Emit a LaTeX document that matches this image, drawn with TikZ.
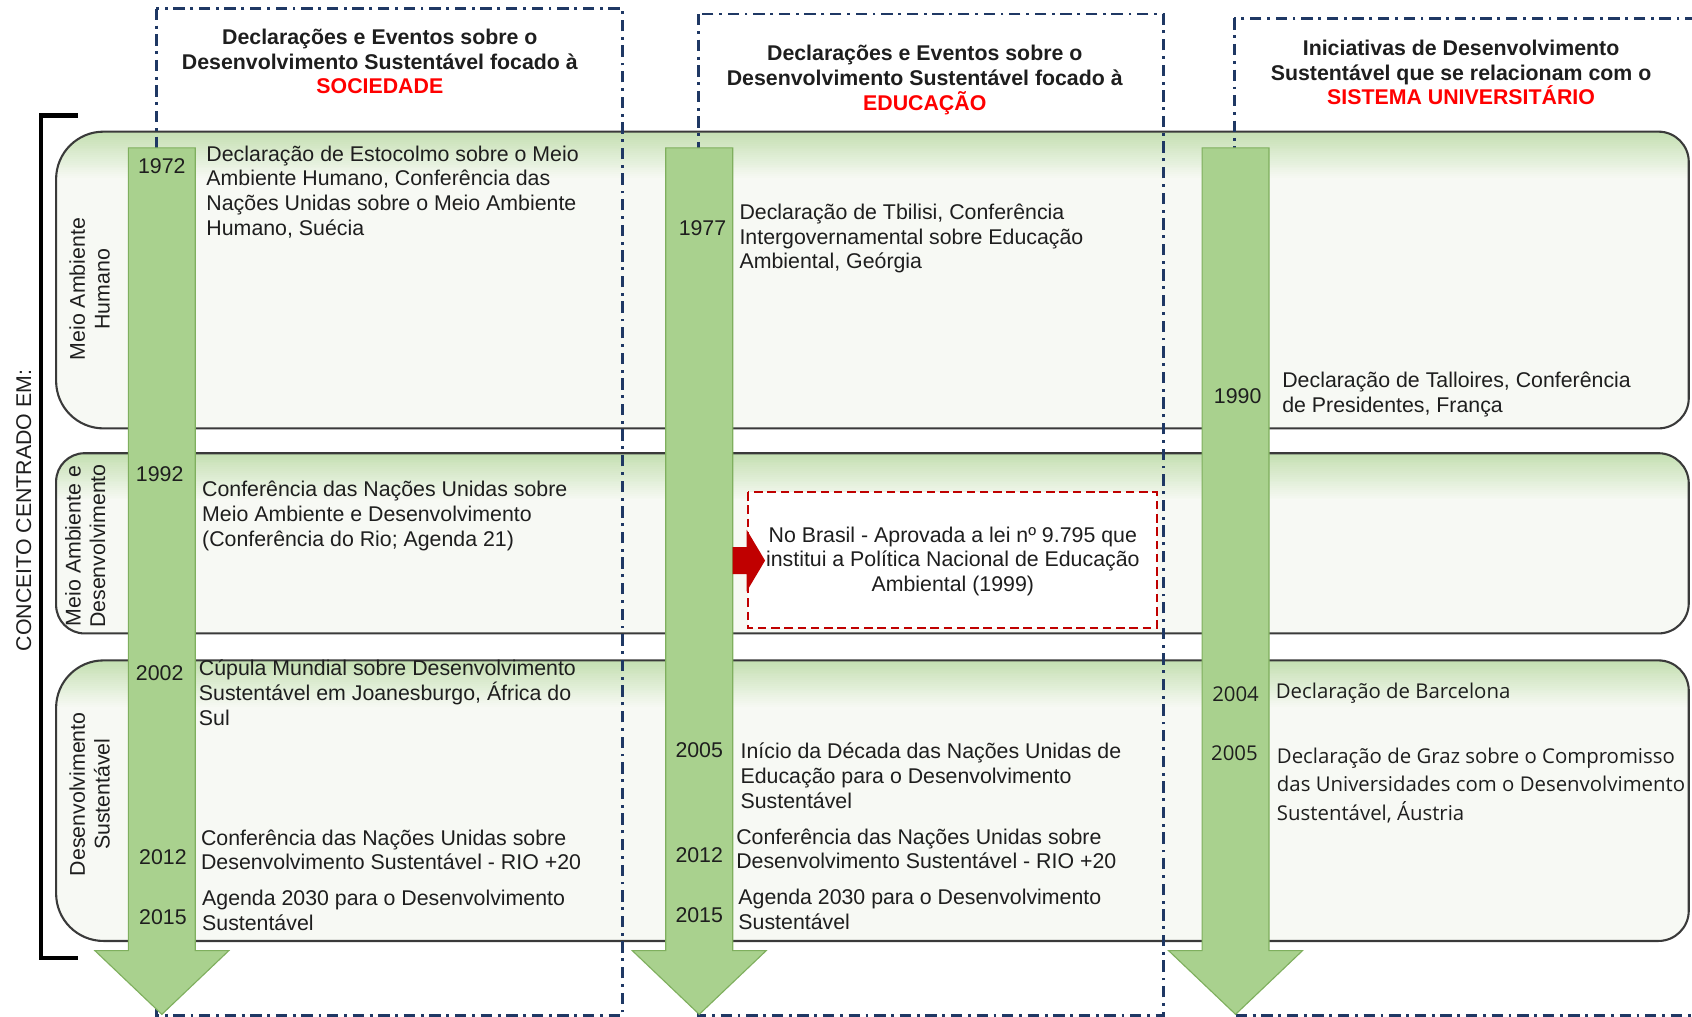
\documentclass[tikz,border=0pt]{standalone}
\usepackage{fontspec}
\setmainfont{Liberation Sans}
\newfontfamily\osans{Open Sans}
\definecolor{navy}{HTML}{1F3864}
\definecolor{bandtop}{HTML}{C3DFB0}
\definecolor{bandbot}{HTML}{F7F9F4}
\definecolor{bandline}{HTML}{3A3A3A}
\definecolor{garrowfill}{HTML}{A9D18E}
\definecolor{garrowline}{HTML}{7FAF5E}
\definecolor{darkred}{HTML}{C00000}
\definecolor{hdrred}{HTML}{FF0000}
\definecolor{txtcol}{HTML}{1E1E1E}
\newcommand{\myfs}{\fontsize{11.25}{13}\selectfont}
\newcommand{\myfsb}{\osans\fontsize{10.75}{15}\selectfont}
\newcommand{\tstrut}{\rule{0pt}{11pt}}
\begin{document}
\begin{tikzpicture}[x=0.02cm,y=-0.02cm,
  bandst/.style={draw=bandline, line width=1.1pt, fill=bandbot,
    path picture={
      \foreach \i in {0,...,25}{
        \pgfmathsetmacro\pc{100-4*\i}
        \fill[bandtop!\pc!bandbot, rounded corners=0pt]
          ([yshift=-\i pt+0.6pt]path picture bounding box.north west) rectangle
          ([yshift=-\i pt-0.6pt]path picture bounding box.north east);
      }}},
  ddbox/.style={draw=navy, line width=1.4pt, dash pattern=on 6pt off 3pt on 1.5pt off 3pt},
  redbox/.style={draw=darkred, fill=white, line width=1.3pt, dash pattern=on 4.5pt off 2.5pt},
  garrow/.style={fill=garrowfill, draw=garrowline, line width=0.6pt},
  txt/.style={anchor=north west, inner sep=0pt, align=left, font=\myfs, text=txtcol, yshift=11pt},
  txtb/.style={anchor=north west, inner sep=0pt, align=left, font=\myfsb, text=txtcol, yshift=11pt},
  ctxt/.style={anchor=north, inner sep=0pt, align=center, font=\myfs, text=txtcol, yshift=11pt},
  hdr/.style={anchor=north, inner sep=0pt, align=center, font=\myfs\bfseries, text=txtcol, yshift=11pt},
  yr/.style={anchor=base, inner sep=0pt, font=\myfs, text=txtcol},
  yrb/.style={anchor=base, inner sep=0pt, font=\myfsb, text=txtcol},
  rot/.style={rotate=90, inner sep=0pt, align=center, font=\myfs, text=txtcol}
]
\useasboundingbox (0,0) rectangle (1568,942);
\clip (0,0) rectangle (1568,942);

% bands
\draw[bandst] (300,122) [rounded corners=16pt] -- (1565,122) -- (1565,397) -- (300,397)
  [rounded corners=25pt] -- (52,397) -- (52,122) -- cycle;
\draw[bandst] (300,420) [rounded corners=16pt] -- (1565,420) -- (1565,587) -- (300,587)
  [rounded corners=15pt] -- (52,587) -- (52,420) -- cycle;
\draw[bandst] (300,612) [rounded corners=16pt] -- (1565,612) -- (1565,872) -- (300,872)
  [rounded corners=25pt] -- (52,872) -- (52,612) -- cycle;

% dash-dot column boxes
\draw[ddbox] (145,8) rectangle (577,941);
\draw[ddbox] (647,13) rectangle (1078,941);
\draw[ddbox] (1144,17) rectangle (1620,941);

% red dashed box
\draw[redbox] (693,456) rectangle (1072,582);

% green timeline arrows
\foreach \cx in {150,648,1145}{
  \filldraw[garrow] (\cx-31,137) -- (\cx+31,137) -- (\cx+31,881) -- (\cx+62,881)
    -- (\cx,940) -- (\cx-62,881) -- (\cx-31,881) -- cycle;
}

% red small arrow
\fill[darkred] (679,507) -- (692,507) -- (692,491) -- (709,519.5) -- (692,548) -- (692,532) -- (679,532) -- cycle;

% bracket
\draw[line width=2.3pt] (72,107) -- (38,107) -- (38,888) -- (72,888);

% rotated labels
\node[rot] (conc) at (22,473) {CONCEITO CENTRADO EM:};
\node[rot] (lb1) at (83,268) {Meio Ambiente\\Humano};
\node[rot] (lb2) at (79,506) {Meio Ambiente e\\Desenvolvimento};
\node[rot] (lb3) at (83,736) {Desenvolvimento\\Sustentável};

% headers
\node[hdr] (h1) at (352,41) {\tstrut Declarações e Eventos sobre o\\Desenvolvimento Sustentável focado à\\\textcolor{hdrred}{SOCIEDADE}};
\node[hdr] (h2) at (857,56) {\tstrut Declarações e Eventos sobre o\\Desenvolvimento Sustentável focado à\\\textcolor{hdrred}{EDUCAÇÃO}};
\node[hdr] (h3) at (1354,51) {\tstrut Iniciativas de Desenvolvimento\\Sustentável que se relacionam com o\\\textcolor{hdrred}{SISTEMA UNIVERSITÁRIO}};

% column 1
\node[yr] (y1972) at (150,161) {1972};
\node[txt] (t1972) at (191,149) {\tstrut Declaração de Estocolmo sobre o Meio\\Ambiente Humano, Conferência das\\Nações Unidas sobre o Meio Ambiente\\Humano, Suécia};
\node[yr] (y1992) at (148,446) {1992};
\node[txt] (t1992) at (187,460) {\tstrut Conferência das Nações Unidas sobre\\Meio Ambiente e Desenvolvimento\\(Conferência do Rio; Agenda 21)};
\node[yr] (y2002) at (148,631) {2002};
\node[txt] (t2002) at (184,626) {\tstrut Cúpula Mundial sobre Desenvolvimento\\Sustentável em Joanesburgo, África do\\Sul};
\node[yr] (y2012a) at (151,801) {2012};
\node[txt] (t2012a) at (186,783) {\tstrut Conferência das Nações Unidas sobre\\Desenvolvimento Sustentável - RIO +20};
\node[yr] (y2015a) at (151,857) {2015};
\node[txt] (t2015a) at (187,839) {\tstrut Agenda 2030 para o Desenvolvimento\\Sustentável};

% column 2
\node[yr] (y1977) at (651,218) {1977};
\node[txt] (t1977) at (685,203) {\tstrut Declaração de Tbilisi, Conferência\\Intergovernamental sobre Educação\\Ambiental, Geórgia};
\node[ctxt] (tbr) at (883,502) {\tstrut No Brasil - Aprovada a lei nº 9.795 que\\institui a Política Nacional de Educação\\Ambiental (1999)};
\node[yr] (y2005b) at (648,702) {2005};
\node[txt] (t2005b) at (686,703) {\tstrut Início da Década das Nações Unidas de\\Educação para o Desenvolvimento\\Sustentável};
\node[yr] (y2012b) at (648,799) {2012};
\node[txt] (t2012b) at (682,782) {\tstrut Conferência das Nações Unidas sobre\\Desenvolvimento Sustentável - RIO +20};
\node[yr] (y2015b) at (648,855) {2015};
\node[txt] (t2015b) at (684,838) {\tstrut Agenda 2030 para o Desenvolvimento\\Sustentável};

% column 3
\node[yr] (y1990) at (1147,374) {1990};
\node[txt] (t1990) at (1188,359) {\tstrut Declaração de Talloires, Conferência\\de Presidentes, França};
\node[yrb] (y2004) at (1145,650) {2004};
\node[txtb] (t2004) at (1182,647) {\tstrut Declaração de Barcelona};
\node[yrb] (y2005c) at (1144,705) {2005};
\node[txtb] (t2005c) at (1183,707) {\tstrut Declaração de Graz sobre o Compromisso\\das Universidades com o Desenvolvimento\\Sustentável, Áustria};
\end{tikzpicture}
\end{document}
